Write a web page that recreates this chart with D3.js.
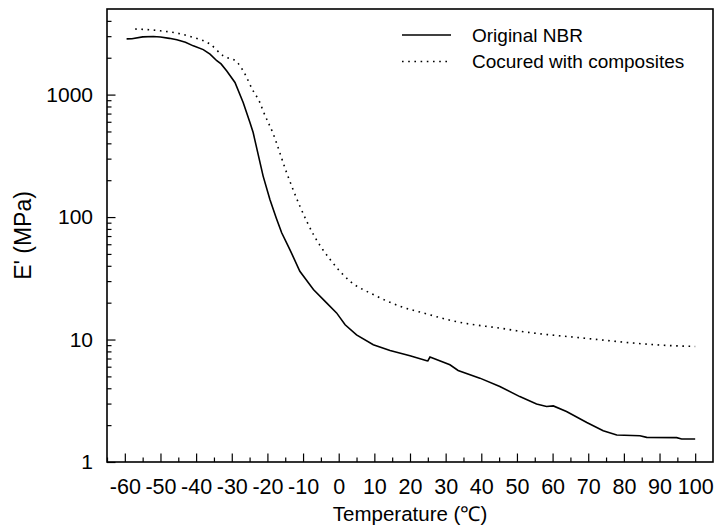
<!DOCTYPE html>
<html>
<head>
<meta charset="utf-8">
<script src="https://cdn.jsdelivr.net/npm/d3@7"></script>
<style>
  html, body { margin: 0; padding: 0; background: #fff; }
  svg text { font-family: "Liberation Sans", Arial, sans-serif; fill: #000; }
</style>
</head>
<body>
<svg id="chart" width="715" height="528"></svg>
<script>
// ---- data ----
const seriesNames = ["Original NBR", "Cocured with composites"];
const nbrTemp = [-59.5, -58, -55, -52, -50, -47.5, -45.4, -43, -40.8, -38, -36.1, -34.2, -33, -31.4, -29.1, -26.8, -24.9, -24.0, -22.6, -21.2, -19.3, -17.5, -16.0, -13.7, -10.9, -7.1, -3.4, -0.6, 1.8, 5.0, 9.7, 14.4, 20.0, 24.7, 25.0, 25.6, 31.2, 33.5, 39.6, 45.2, 50.8, 55.5, 58.3, 60.2, 63.9, 69.6, 74.2, 78.0, 84.5, 86.4, 94.8, 96.2, 100];
const nbrModulus = [2850, 2860, 2960, 2980, 2950, 2880, 2800, 2680, 2500, 2330, 2140, 1890, 1780, 1560, 1256, 861, 591, 490, 325, 216, 139, 98, 74.4, 54.3, 36.1, 25.6, 19.9, 16.5, 13.2, 10.9, 9.07, 8.14, 7.37, 6.71, 6.7, 7.19, 6.22, 5.59, 4.84, 4.13, 3.42, 2.98, 2.84, 2.87, 2.58, 2.10, 1.80, 1.66, 1.64, 1.59, 1.58, 1.54, 1.54];
const coTemp = [-57.1, -54, -50.1, -45.4, -40.8, -36.1, -32.4, -28.6, -26.8, -24.0, -22.1, -21.2, -18.4, -14.6, -10.9, -7.1, -2.4, 3.2, 9.7, 17.2, 24.7, 30.7, 35.9, 45.2, 49.9, 54.6, 63.9, 73.3, 82.6, 92.0, 100];
const coModulus = [3430, 3400, 3320, 3180, 2930, 2585, 2074, 1852, 1563, 1072, 861, 736, 480, 230, 123, 72.1, 45.0, 29.9, 23.3, 18.7, 16.2, 14.5, 13.5, 12.4, 11.8, 11.3, 10.6, 9.96, 9.36, 8.95, 8.78];
const xTicks = [-60, -50, -40, -30, -20, -10, 0, 10, 20, 30, 40, 50, 60, 70, 80, 90, 100];
const xMinorTicks = [-65, -55, -45, -35, -25, -15, -5, 5, 15, 25, 35, 45, 55, 65, 75, 85, 95];
const yTicks = [1, 10, 100, 1000];
const yMinorTicks = [2,3,4,5,6,7,8,9,20,30,40,50,60,70,80,90,200,300,400,500,600,700,800,900,2000,3000,4000];
const xTitle = "Temperature (\u2103)";
const yTitle = "E' (MPa)";

// ---- layout ----
const L = 107, R = 713, T = 9, B = 462;
const svg = d3.select("#chart");
const x = d3.scaleLinear().domain([-65, 105]).range([L, R]);
const y = d3.scaleLog().domain([1, 5000]).range([B, T]);

// minor ticks
svg.append("g").attr("transform", `translate(0,${B})`)
  .call(d3.axisBottom(x).tickValues(xMinorTicks).tickSize(-4.5).tickFormat(""))
  .call(g => g.select(".domain").remove())
  .call(g => g.selectAll("line").attr("stroke", "#000").attr("stroke-width", 1.2));
svg.append("g").attr("transform", `translate(${L},0)`)
  .call(d3.axisLeft(y).tickValues(yMinorTicks).tickSize(-4.5).tickFormat(""))
  .call(g => g.select(".domain").remove())
  .call(g => g.selectAll("line").attr("stroke", "#000").attr("stroke-width", 1.2));

// major ticks + labels
svg.append("g").attr("transform", `translate(0,${B})`)
  .call(d3.axisBottom(x).tickValues(xTicks).tickSize(-8.5).tickPadding(17).tickFormat(d => String(d)))
  .call(g => g.select(".domain").remove())
  .call(g => g.selectAll("line").attr("stroke", "#000").attr("stroke-width", 1.2))
  .call(g => g.selectAll("text").attr("font-size", 21.5).attr("font-family", "Liberation Sans, Arial, sans-serif"));
svg.append("g").attr("transform", `translate(${L},0)`)
  .call(d3.axisLeft(y).tickValues(yTicks).tickSize(-8.5).tickPadding(14).tickFormat(d => String(d)))
  .call(g => g.select(".domain").remove())
  .call(g => g.selectAll("line").attr("stroke", "#000").attr("stroke-width", 1.2))
  .call(g => g.selectAll("text").attr("font-size", 21).attr("font-family", "Liberation Sans, Arial, sans-serif"));

// frame
svg.append("rect").attr("x", L).attr("y", T).attr("width", R - L).attr("height", B - T)
  .attr("fill", "none").attr("stroke", "#000").attr("stroke-width", 1.6);

// lines
const nbr = nbrTemp.map((t, i) => [t, nbrModulus[i]]);
const co = coTemp.map((t, i) => [t, coModulus[i]]);
svg.append("path").datum(nbr)
  .attr("d", d3.line().x(d => x(d[0])).y(d => y(d[1])).curve(d3.curveLinear))
  .attr("fill", "none").attr("stroke", "#000").attr("stroke-width", 1.6);
svg.append("path").datum(co)
  .attr("d", d3.line().x(d => x(d[0])).y(d => y(d[1])).curve(d3.curveMonotoneX))
  .attr("fill", "none").attr("stroke", "#000").attr("stroke-width", 1.6)
  .attr("stroke-dasharray", "1.6,4.6");

// legend
const leg = svg.append("g");
const styles = [null, "1.6,4.6"];
seriesNames.forEach((name, i) => {
  const yy = 35 + i * 26.5;
  leg.append("line").attr("x1", 402).attr("x2", 451).attr("y1", yy).attr("y2", yy)
    .attr("stroke", "#000").attr("stroke-width", 1.4)
    .attr("stroke-dasharray", styles[i]);
  leg.append("text").attr("x", 472).attr("y", yy).attr("dy", "0.35em")
    .attr("font-size", 19).text(name);
});

// axis titles
svg.append("text").attr("x", (L + R) / 2).attr("y", 521).attr("text-anchor", "middle")
  .attr("font-size", 20.5).text(xTitle);
svg.append("text").attr("transform", `translate(31,${(T + B) / 2}) rotate(-90)`)
  .attr("text-anchor", "middle").attr("font-size", 23).text(yTitle);
</script>
</body>
</html>
